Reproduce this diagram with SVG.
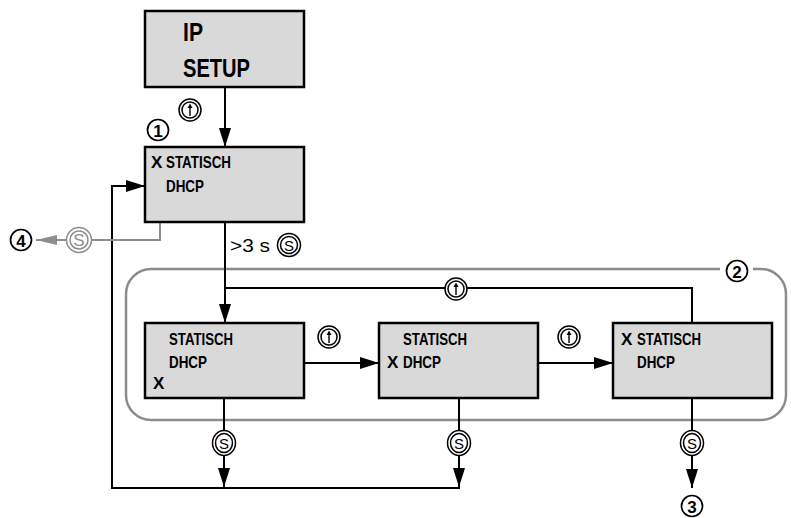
<svg xmlns="http://www.w3.org/2000/svg" width="791" height="518" viewBox="0 0 791 518">
<style>
.box{fill:#d9d9d9;stroke:#000;stroke-width:2.5}
.t{font-family:"Liberation Sans",Arial,sans-serif;font-weight:bold;fill:#000}
.big{font-size:26px}
.sm{font-size:17px}
.ln{fill:none;stroke:#000;stroke-width:2}
.gl{fill:none;stroke:#8c8c8c;stroke-width:2}
.grp{fill:none;stroke:#8c8c8c;stroke-width:2.5}
.bo{fill:#fff;stroke:#000;stroke-width:1.5}
.bi{fill:none;stroke:#000;stroke-width:1.5}
.go{fill:#fff;stroke:#8c8c8c;stroke-width:1.5}
.gi{fill:none;stroke:#8c8c8c;stroke-width:1.5}
.nc{fill:#fff;stroke:#000;stroke-width:1.7}
.num{font-family:"Liberation Sans",Arial,sans-serif;font-weight:bold;font-size:17px;text-anchor:middle;dominant-baseline:central;fill:#000}
.st{font-family:"Liberation Sans",Arial,sans-serif;font-size:15px;text-anchor:middle;dominant-baseline:central}
</style>
<defs>
<marker id="ah" markerUnits="userSpaceOnUse" markerWidth="19" markerHeight="12" refX="19" refY="6" orient="auto"><path d="M0,0 L19,6 L0,12 z" fill="#000"/></marker>
<marker id="ahg" markerUnits="userSpaceOnUse" markerWidth="21" markerHeight="10" refX="21" refY="5" orient="auto"><path d="M0,0 L21,5 L0,10 z" fill="#8c8c8c"/></marker>
<g id="up"><circle r="11" class="bo"/><circle r="8" class="bi"/><path d="M0,6 V-4" stroke="#000" stroke-width="1.4"/><path d="M-2.5,-2 L0,-6.5 L2.5,-2 z" fill="#000"/></g>
</defs>

<path id="group2" class="grp" d="M720,269 H151 A25,25 0 0 0 126,294 V395 A25,25 0 0 0 151,420 H761 A25,25 0 0 0 786,395 V294 A25,25 0 0 0 761,269 H753"/>

<g id="connectors">
<path class="ln" d="M225,87 V147" marker-end="url(#ah)"/>
<path class="ln" d="M225,222 V323" marker-end="url(#ah)"/>
<path class="ln" d="M225,288 H692 V323"/>
<path class="ln" d="M304,363 H379" marker-end="url(#ah)"/>
<path class="ln" d="M538,363 H613" marker-end="url(#ah)"/>
<path class="ln" d="M224,398 V487" marker-end="url(#ah)"/>
<path class="ln" d="M459,398 V487" marker-end="url(#ah)"/>
<path class="ln" d="M692,398 V488" marker-end="url(#ah)"/>
<path class="ln" d="M460,488 H112 V186 H145" marker-end="url(#ah)"/>
<path class="gl" d="M160,222 V240 H36" marker-end="url(#ahg)"/>
</g>

<g id="ipsetup">
<rect class="box" x="145" y="11" width="159" height="76"/>
<text class="t big" x="183" y="41" textLength="20" lengthAdjust="spacingAndGlyphs">IP</text>
<text class="t big" x="183" y="77" textLength="67" lengthAdjust="spacingAndGlyphs">SETUP</text>
</g>

<g id="box1">
<rect class="box" x="145" y="147" width="159" height="75"/>
<text class="t sm" x="151" y="168">X</text>
<text class="t sm" x="166" y="168" textLength="65" lengthAdjust="spacingAndGlyphs">STATISCH</text>
<text class="t sm" x="166" y="192" textLength="38" lengthAdjust="spacingAndGlyphs">DHCP</text>
</g>

<g id="box2">
<rect class="box" x="145" y="323" width="159" height="75"/>
<text class="t sm" x="169" y="345" textLength="64" lengthAdjust="spacingAndGlyphs">STATISCH</text>
<text class="t sm" x="169" y="368" textLength="38" lengthAdjust="spacingAndGlyphs">DHCP</text>
<text class="t sm" x="153" y="389">X</text>
</g>

<g id="box3">
<rect class="box" x="379" y="323" width="159" height="75"/>
<text class="t sm" x="403" y="345" textLength="64" lengthAdjust="spacingAndGlyphs">STATISCH</text>
<text class="t sm" x="387" y="368">X</text>
<text class="t sm" x="403" y="368" textLength="38" lengthAdjust="spacingAndGlyphs">DHCP</text>
</g>

<g id="box4">
<rect class="box" x="613" y="323" width="159" height="75"/>
<text class="t sm" x="621" y="345">X</text>
<text class="t sm" x="637" y="345" textLength="64" lengthAdjust="spacingAndGlyphs">STATISCH</text>
<text class="t sm" x="637" y="368" textLength="38" lengthAdjust="spacingAndGlyphs">DHCP</text>
</g>

<g id="buttons">
<use href="#up" x="190" y="110"/>
<use href="#up" x="329" y="337"/>
<use href="#up" x="569" y="337"/>
<use href="#up" x="456" y="289"/>
<g id="s-long"><circle cx="289" cy="245" r="11.5" class="bo"/><circle cx="289" cy="245" r="8.5" class="bi"/><text class="st" x="289" y="245.5">S</text></g>
<g id="s1"><ellipse cx="224" cy="443" rx="11.5" ry="12.5" class="bo"/><ellipse cx="224" cy="443" rx="8.5" ry="9.5" class="bi"/><text class="st" x="224" y="443.5">S</text></g>
<g id="s2"><ellipse cx="459" cy="443" rx="11.5" ry="12.5" class="bo"/><ellipse cx="459" cy="443" rx="8.5" ry="9.5" class="bi"/><text class="st" x="459" y="443.5">S</text></g>
<g id="s3"><ellipse cx="692" cy="443" rx="11.5" ry="12.5" class="bo"/><ellipse cx="692" cy="443" rx="8.5" ry="9.5" class="bi"/><text class="st" x="692" y="443.5">S</text></g>
<g id="s-gray"><circle cx="79" cy="240" r="12.5" class="go"/><circle cx="79" cy="240" r="9" class="gi"/><text class="st" x="79" y="240.5" fill="#8c8c8c" style="font-size:17px">S</text></g>
</g>

<text class="t" x="230" y="252" style="font-size:19px;font-weight:normal" textLength="40" lengthAdjust="spacingAndGlyphs">&gt;3 s</text>

<g id="labels">
<g id="n1"><circle cx="158" cy="130" r="10.5" class="nc"/><text class="num" x="158" y="131">1</text></g>
<g id="n2"><circle cx="737" cy="271" r="10.5" class="nc"/><text class="num" x="737" y="272">2</text></g>
<g id="n3"><circle cx="692" cy="506" r="10.5" class="nc"/><text class="num" x="692" y="507">3</text></g>
<g id="n4"><circle cx="21" cy="240" r="10.5" class="nc"/><text class="num" x="21" y="241">4</text></g>
</g>
</svg>
